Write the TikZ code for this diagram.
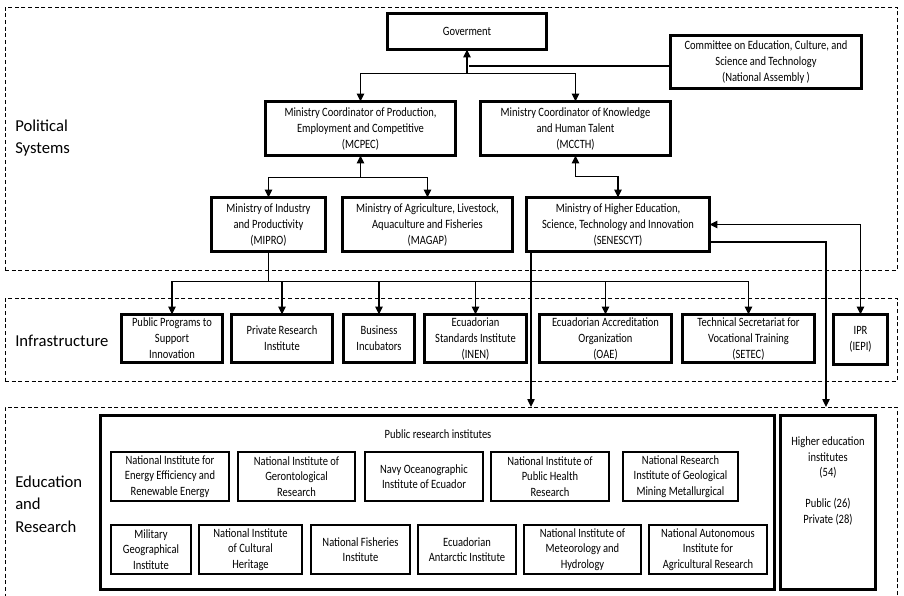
\documentclass[tikz,border=0pt]{standalone}
\usepackage{fontspec}
\setmainfont{Carlito}
\newfontfamily\boxfont{Carlito}[FakeStretch=0.83]
\usetikzlibrary{arrows.meta,calc}
% #8 = inset (px) so that the outer edge of the border meets the measured edge
\newcommand\bxi[8]{\node[#6, minimum width={(#4-#2-2*#8)*0.75pt}, minimum height={(#5-#3-2*#8)*0.75pt}] (#1) at ({(#2+#4)/2},{(#3+#5)/2}) {#7};}
\newcommand\bx[7]{\bxi{#1}{#2}{#3}{#4}{#5}{#6}{#7}{1.6}}
\newcommand\tx[7]{\bxi{#1}{#2}{#3}{#4}{#5}{#6}{#7}{0.9}}
\newcommand\rx[7]{\bxi{#1}{#2}{#3}{#4}{#5}{#6}{#7}{0}}
\begin{document}
\begin{tikzpicture}[x=0.75pt,y=-0.75pt,
  region/.style={draw, line width=0.7pt, dash pattern=on 3pt off 2pt, inner sep=0pt, outer sep=0pt},
  bigbox/.style={draw, line width=2.6pt, align=center, inner sep=0pt, outer sep=0pt, font=\boxfont\fontsize{9.5}{12}\selectfont},
  thinbox/.style={draw, line width=1.5pt, align=center, inner sep=0pt, outer sep=0pt, font=\boxfont\fontsize{9.5}{11.6}\selectfont},
  txt/.style={align=center, inner sep=0pt, font=\boxfont\fontsize{9.5}{11.6}\selectfont},
  conn/.style={line width=1pt},
  arr/.style={conn, -{Triangle[length=6pt,width=5.5pt]}},
  both/.style={conn, {Triangle[length=6pt,width=5.5pt]}-{Triangle[length=6pt,width=5.5pt]}},
  lbl/.style={font=\fontsize{12.5}{17}\selectfont, align=left, anchor=west, inner sep=0pt}
]
\useasboundingbox (0,0) rectangle (904,596);
% regions
\rx{pol}{5}{7}{897}{270}{region}{}
\rx{infra}{5}{298}{897}{381}{region}{}
\rx{edu}{5}{407}{897}{603}{region}{}
\node[lbl] (lpol) at (15,138) {Political\\Systems};
\node[lbl] (linfra) at (15,341) {Infrastructure};
\node[lbl] (ledu) at (15,504) {Education\\and\\Research};
% political
\bx{gov}{386}{12}{548}{51}{bigbox}{Goverment}
\bx{comm}{669}{34}{863}{90}{bigbox}{Committee on Education, Culture, and\\Science and Technology\\(National Assembly )}
\bx{mcpec}{264}{100}{457}{157}{bigbox}{Ministry Coordinator of Production,\\Employment and Competitive\\(MCPEC)}
\bx{mccth}{479}{100}{672}{157}{bigbox}{Ministry Coordinator of Knowledge\\and Human Talent\\(MCCTH)}
\bx{mipro}{210}{196}{327}{253}{bigbox}{Ministry of Industry\\and Productivity\\(MIPRO)}
\bx{magap}{341}{196}{514}{253}{bigbox}{Ministry of Agriculture, Livestock,\\Aquaculture and Fisheries\\(MAGAP)}
\bx{senescyt}{525}{196}{711}{253}{bigbox}{Ministry of Higher Education,\\Science, Technology and Innovation\\(SENESCYT)}
% infrastructure
\bx{i1}{120}{313}{224}{364}{bigbox}{Public Programs to\\Support\\Innovation}
\bx{i2}{230}{313}{334}{364}{bigbox}{Private Research\\Institute}
\bx{i3}{342}{313}{416}{364}{bigbox}{Business\\Incubators}
\bx{i4}{423}{313}{528}{364}{bigbox}{Ecuadorian\\Standards Institute\\(INEN)}
\bx{i5}{538}{313}{673}{364}{bigbox}{Ecuadorian Accreditation\\Organization\\(OAE)}
\bx{i6}{681}{313}{816}{364}{bigbox}{Technical Secretariat for\\Vocational Training\\(SETEC)}
\bx{ipr}{832}{313}{889}{366}{bigbox}{IPR\\(IEPI)}
% education
\bx{pub}{99}{414}{776}{591}{bigbox}{}
\bx{high}{779}{414}{877}{591}{bigbox}{}
\node[txt] (pubt) at (438,434) {Public research institutes};
\node[txt] (hight) at (828,481) {Higher education\\institutes\\(54)\\[11.6pt]Public (26)\\Private (28)};
\tx{e1}{110}{451}{230}{502}{thinbox}{National Institute for\\Energy Efficiency and\\Renewable Energy}
\tx{e2}{237}{451}{356}{502}{thinbox}{National Institute of\\Gerontological\\Research}
\tx{e3}{364}{451}{484}{502}{thinbox}{Navy Oceanographic\\Institute of Ecuador}
\tx{e4}{490}{451}{610}{502}{thinbox}{National Institute of\\Public Health\\Research}
\tx{e5}{622}{451}{739}{502}{thinbox}{National Research\\Institute of Geological\\Mining Metallurgical}
\tx{e6}{110}{524}{192}{575}{thinbox}{Military\\Geographical\\Institute}
\tx{e7}{198}{524}{303}{575}{thinbox}{National Institute\\of Cultural\\Heritage}
\tx{e8}{310}{524}{411}{575}{thinbox}{National Fisheries\\Institute}
\tx{e9}{417}{524}{517}{575}{thinbox}{Ecuadorian\\Antarctic Institute}
\tx{e10}{523}{524}{642}{575}{thinbox}{National Institute of\\Meteorology and\\Hydrology}
\tx{e11}{648}{524}{768}{575}{thinbox}{National Autonomous\\Institute for\\Agricultural Research}
% connectors
\coordinate (hubA) at ($(gov.south)+(0,24)$);
\draw[arr] (hubA) -- (gov.south);
\draw[arr] (hubA) -| (mcpec.north);
\draw[arr] (hubA) -| (mccth.north);
\coordinate (cj) at (469,66);
\draw[conn] (comm.west |- cj) -- (cj);
\coordinate (hubB) at ($(mcpec.south)+(0,22)$);
\draw[arr] (hubB) -- (mcpec.south);
\draw[arr] (hubB) -| (mipro.north);
\draw[arr] (hubB) -| (magap.north);
\draw[both] (mccth.south) |- ($(mccth.south)!.5!(senescyt.north)$) -| (senescyt.north);
\coordinate (hubC) at ($(mipro.south)+(0,30)$);
\foreach \t in {i1,i2,i3,i4,i5,i6}{
  \draw[arr] (mipro.south) |- (\t.north |- hubC) -- (\t.north);
}
\coordinate (sx) at (531,0);
\draw[arr] (senescyt.south -| sx) -- (edu.north -| sx);
\coordinate (sy) at (0,242);
\coordinate (hx) at (826,0);
\draw[arr] (senescyt.east |- sy) -| (edu.north -| hx);
\draw[both] (senescyt.east) -| (ipr.north);
\end{tikzpicture}
\end{document}
